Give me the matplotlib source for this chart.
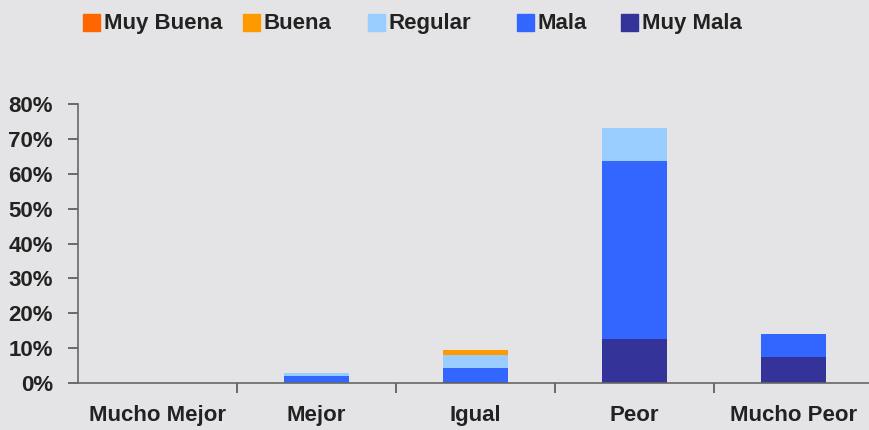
import numpy as np
import matplotlib.pyplot as plt
from matplotlib.patches import Rectangle

categorias = ['Mucho Mejor', 'Mejor', 'Igual', 'Peor', 'Mucho Peor']
series = ['Muy Buena', 'Buena', 'Regular', 'Mala', 'Muy Mala']
muy_buena = [0.0, 0.0, 0.0, 0.0, 0.0]
buena = [0.0, 0.0, 1.5, 0.0, 0.0]
regular = [0.0, 0.9, 3.7, 9.5, 0.0]
mala = [0.0, 2.0, 3.9, 51.0, 6.6]
muy_mala = [0.0, 0.0, 0.4, 12.6, 7.4]
colores = ['#FF6600', '#FF9900', '#99CCFF', '#3366FF', '#333399']

bg = '#E4E4E6'
plt.rcParams['font.family'] = ['Liberation Sans', 'DejaVu Sans']
plt.rcParams['font.weight'] = 'bold'

W, H = 870, 430
fig = plt.figure(figsize=(8.7, 4.3), dpi=100, facecolor=bg)
ax = fig.add_axes([78 / W, 47 / H, 1 - 78 / W, 279 / H])
ax.set_facecolor(bg)

x = np.arange(len(categorias))
# apilado desde abajo: Muy Mala, Mala, Regular, Buena, Muy Buena
pilas = [muy_mala, mala, regular, buena, muy_buena]
bottom = np.zeros(len(categorias))
for vals, c in zip(pilas, colores[::-1]):
    vals = np.array(vals)
    ax.bar(x, vals, width=0.41, bottom=bottom, color=c, linewidth=0)
    bottom += vals

ax.set_ylim(0, 80)
ax.set_xlim(-0.5, 4.48)
ax.set_yticks(np.arange(0, 81, 10))
ax.set_yticklabels([f'{v}%' for v in range(0, 81, 10)], fontsize=16, color='#222222')
ax.set_xticks(x)
ax.set_xticklabels(categorias, fontsize=16, color='#222222')
ax.set_xticks(np.arange(0.5, 4.5, 1), minor=True)
ax.tick_params(axis='x', which='major', length=0, pad=16)
ax.tick_params(axis='x', which='minor', length=7, color='#555555', width=1.2)
ax.tick_params(axis='y', length=7, color='#555555', width=1.2, pad=11)

for s in ['top', 'right']:
    ax.spines[s].set_visible(False)
for s in ['left', 'bottom']:
    ax.spines[s].set_color('#666666')
    ax.spines[s].set_linewidth(1.2)

# leyenda manual
leg_x = [83, 243, 368, 517, 621]
for px, nombre, c in zip(leg_x, series, colores):
    fig.patches.append(Rectangle((px / W, 1 - 31 / H), 17 / W, 17 / H,
                                 transform=fig.transFigure, color=c))
    fig.text((px + 21) / W, 1 - 29 / H, nombre, fontsize=16, color='#222222',
             va='baseline', ha='left')

fig.savefig('out.png', dpi=100, facecolor=bg)
